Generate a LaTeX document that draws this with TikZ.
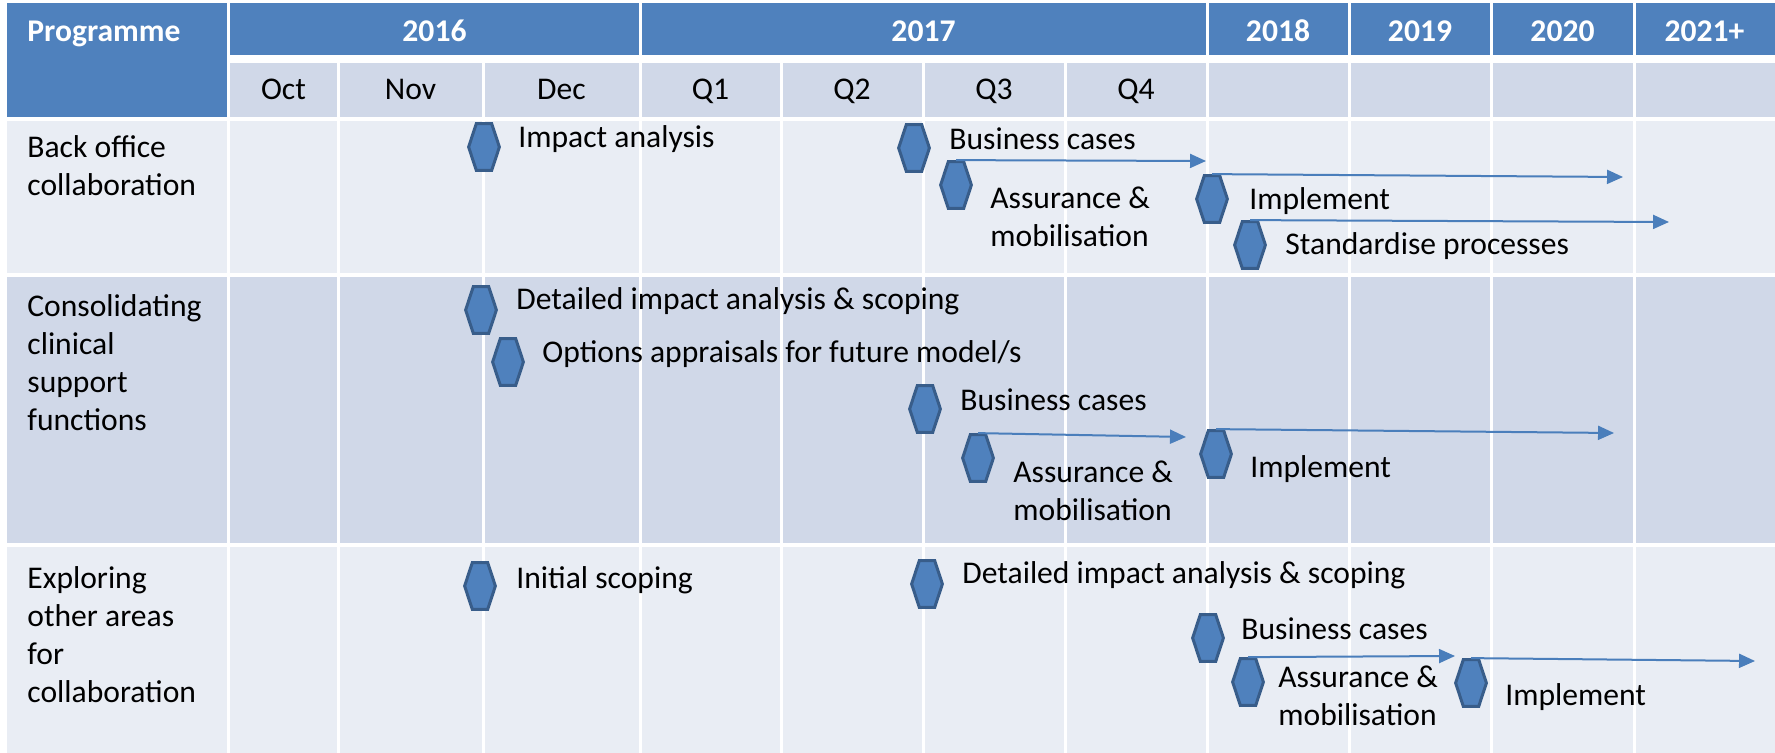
\documentclass[tikz,border=0pt]{standalone}
\usepackage{fontspec}
\setmainfont{Carlito}
\usepackage{xcolor}
\usetikzlibrary{arrows.meta,calc,shapes.geometric}

\definecolor{hdrblue}{HTML}{4F81BD}
\definecolor{bandlight}{HTML}{E9EDF4}
\definecolor{banddark}{HTML}{D0D8E8}
\definecolor{hexline}{HTML}{385D8A}
\definecolor{flowblue}{HTML}{4A7EBB}

\tikzset{
  hexa/.style={regular polygon, regular polygon sides=6, minimum size=27pt, inner sep=0pt,
    xscale=0.57, fill=hdrblue, draw=hexline, line width=1.5pt},
  lbl/.style={anchor=base west, inner sep=0pt, align=left, font=\fontsize{15.8}{19}\selectfont},
  hdr/.style={anchor=base, inner sep=0pt, text=white, font=\fontsize{15.8}{19}\selectfont\bfseries},
  mon/.style={anchor=base, inner sep=0pt, font=\fontsize{15.8}{19}\selectfont},
  flow/.style={draw=flowblue, line width=1pt, -{Triangle[length=8pt,width=7pt]}},
  gridline/.style={white, line width=1.5pt}
}

\begin{document}
\begin{tikzpicture}[x=0.5pt,y=-0.5pt]
\useasboundingbox (0,0) rectangle (1775,753);
\fill[white] (0,0) rectangle (1775,753);
% header
\fill[hdrblue] (7,3) rectangle (1775,55);
\fill[hdrblue] (7,3) rectangle (227,117);
\fill[banddark] (229,63) rectangle (1775,117);
% rows
\fill[bandlight] (7,121) rectangle (1775,273);
\fill[banddark] (7,277) rectangle (1775,543);
\fill[bandlight] (7,547) rectangle (1775,753);
\foreach \x in {338,483,640,781,923,1065,1207,1349,1491,1634}
    \draw[gridline] (\x,63) -- (\x,753);
\foreach \x in {640,1207,1349,1491,1634}
    \draw[gridline] (\x,3) -- (\x,55);
\draw[gridline] (228,3) -- (228,753);

\node[hdr, anchor=base west] (prog) at (27,42) {Programme};
\foreach \x/\t [count=\i] in {434.5/2016,923.5/2017,1278/2018,1420/2019,1562.5/2020,1704.5/2021+}
    \node[hdr] (yr\i) at (\x,42) {\t};
\foreach \x/\t [count=\i] in {283.5/Oct,410.5/Nov,561.5/Dec,710.5/Q1,852/Q2,994/Q3,1136/Q4}
    \node[mon] (mo\i) at (\x,100) {\t};

% base of a multi-line label = its last line
\node[lbl] (prg1) at (27,196) {Back office\\collaboration};
\node[lbl] (prg2) at (27,430) {Consolidating\\clinical\\support\\functions};
\node[lbl] (prg3) at (27,702) {Exploring\\other areas\\for\\collaboration};

% back office
\node[hexa] (ia1) at (484,147) {};
\node[lbl] (ia1t) at (518,148) {Impact analysis};
\node[hexa] (bc1) at (914,148) {};
\node[lbl] (bc1t) at (949,150) {Business cases};
\node[hexa] (am1) at (956,185) {};
\node[lbl] (am1t) at (990,247) {Assurance \&\\mobilisation};
\node[hexa] (im1) at (1212,199) {};
\node[lbl] (im1t) at (1249,210) {Implement};
\node[hexa] (sp1) at (1250,245) {};
\node[lbl] (sp1t) at (1285,255) {Standardise processes};

% clinical support
\node[hexa] (ia2) at (481,310) {};
\node[lbl] (ia2t) at (516,310) {Detailed impact analysis \& scoping};
\node[hexa] (oa2) at (508,362) {};
\node[lbl] (oa2t) at (542,363) {Options appraisals for future model/s};
\node[hexa] (bc2) at (925,409) {};
\node[lbl] (bc2t) at (960,410) {Business cases};
\node[hexa] (am2) at (978,458) {};
\node[lbl] (am2t) at (1013,520) {Assurance \&\\mobilisation};
\node[hexa] (im2) at (1216,454) {};
\node[lbl] (im2t) at (1250,477) {Implement};

% other areas
\node[hexa] (is3) at (480,586) {};
\node[lbl] (is3t) at (516,588) {Initial scoping};
\node[hexa] (ia3) at (927,584) {};
\node[lbl] (ia3t) at (962,583) {Detailed impact analysis \& scoping};
\node[hexa] (bc3) at (1208,638) {};
\node[lbl] (bc3t) at (1241,639) {Business cases};
\node[hexa] (am3) at (1248,682) {};
\node[lbl] (am3t) at (1278,725) {Assurance \&\\mobilisation};
\node[hexa] (im3) at (1471,683) {};
\node[lbl] (im3t) at (1505,705) {Implement};

\coordinate (am1e) at (1206,161);
\coordinate (im1e) at (1623,177);
\coordinate (sp1e) at (1669,222);
\coordinate (am2e) at (1186,437);
\coordinate (im2e) at (1614,433);
\coordinate (am3e) at (1455,656);
\coordinate (im3e) at (1755,661);
\draw[flow] (am1.north) -- (am1e);
\draw[flow] (im1.north) -- (im1e);
\draw[flow] (sp1.north) -- (sp1e);
\draw[flow] (am2.north) -- (am2e);
\draw[flow] (im2.north) -- (im2e);
\draw[flow] (am3.north) -- (am3e);
\draw[flow] (im3.north) -- (im3e);
\end{tikzpicture}
\end{document}
